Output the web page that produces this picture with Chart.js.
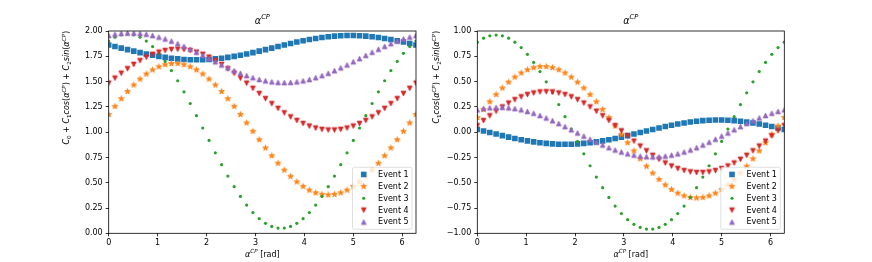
<!DOCTYPE html>
<html>
<head>
<meta charset="UTF-8">
<title>alpha CP events</title>
<script src="https://cdn.jsdelivr.net/npm/chart.js"></script>
<style>
    body { margin: 0; background: #fff; width: 872px; height: 262px; overflow: hidden; position: relative; }
    .box { position: absolute; top: 0; height: 262px; }
    #left { left: 0; width: 436px; }
    #right { left: 430px; width: 442px; }
</style>
</head>
<body>

<div class="box" id="left"><canvas id="c1" width="436" height="262"></canvas></div>
<div class="box" id="right"><canvas id="c2" width="442" height="262"></canvas></div>

<script>
// alpha^CP sampling points [rad]
const alphaCP = [0, 0.128, 0.256, 0.385, 0.513, 0.641, 0.769, 0.898, 1.026, 1.154, 1.282, 1.411, 1.539, 1.667, 1.795, 1.923, 2.052, 2.180, 2.308, 2.436, 2.565, 2.693, 2.821, 2.949, 3.077, 3.206, 3.334, 3.462, 3.590, 3.719, 3.847, 3.975, 4.103, 4.232, 4.360, 4.488, 4.616, 4.744, 4.873, 5.001, 5.129, 5.257, 5.386, 5.514, 5.642, 5.770, 5.899, 6.027, 6.155, 6.283];

const eventNames = ['Event 1', 'Event 2', 'Event 3', 'Event 4', 'Event 5'];
const xTicks = [0, 1, 2, 3, 4, 5, 6];

// left panel: C0 + C1 cos + C2 sin
const total1 = [1.862, 1.847, 1.831, 1.816, 1.801, 1.786, 1.773, 1.760, 1.749, 1.739, 1.730, 1.724, 1.719, 1.716, 1.715, 1.716, 1.719, 1.724, 1.730, 1.739, 1.749, 1.760, 1.773, 1.786, 1.801, 1.816, 1.831, 1.847, 1.862, 1.876, 1.891, 1.904, 1.916, 1.926, 1.936, 1.943, 1.949, 1.953, 1.955, 1.955, 1.953, 1.949, 1.943, 1.936, 1.926, 1.916, 1.904, 1.891, 1.876, 1.862];
const total2 = [1.175, 1.255, 1.331, 1.402, 1.467, 1.525, 1.575, 1.616, 1.647, 1.668, 1.679, 1.679, 1.668, 1.647, 1.616, 1.575, 1.525, 1.467, 1.402, 1.331, 1.255, 1.175, 1.092, 1.009, 0.926, 0.845, 0.767, 0.693, 0.625, 0.563, 0.509, 0.464, 0.427, 0.401, 0.385, 0.380, 0.385, 0.401, 0.427, 0.464, 0.509, 0.563, 0.625, 0.693, 0.767, 0.845, 0.926, 1.009, 1.092, 1.175];
const total3 = [1.900, 1.939, 1.962, 1.970, 1.962, 1.939, 1.900, 1.846, 1.779, 1.699, 1.609, 1.508, 1.399, 1.283, 1.163, 1.041, 0.918, 0.796, 0.678, 0.566, 0.461, 0.365, 0.279, 0.205, 0.145, 0.099, 0.068, 0.052, 0.052, 0.068, 0.099, 0.145, 0.205, 0.279, 0.365, 0.461, 0.566, 0.678, 0.796, 0.918, 1.041, 1.163, 1.283, 1.399, 1.508, 1.609, 1.699, 1.779, 1.846, 1.900];
const total4 = [1.484, 1.534, 1.582, 1.627, 1.669, 1.707, 1.741, 1.769, 1.791, 1.807, 1.817, 1.820, 1.817, 1.807, 1.791, 1.769, 1.741, 1.707, 1.669, 1.627, 1.582, 1.534, 1.484, 1.433, 1.382, 1.331, 1.282, 1.235, 1.191, 1.151, 1.115, 1.085, 1.060, 1.040, 1.027, 1.021, 1.021, 1.027, 1.040, 1.060, 1.085, 1.115, 1.151, 1.191, 1.235, 1.282, 1.331, 1.382, 1.433, 1.484];
const total5 = [1.956, 1.968, 1.976, 1.980, 1.980, 1.976, 1.968, 1.956, 1.940, 1.922, 1.900, 1.875, 1.848, 1.820, 1.790, 1.759, 1.727, 1.696, 1.665, 1.636, 1.608, 1.582, 1.559, 1.539, 1.521, 1.508, 1.498, 1.492, 1.490, 1.492, 1.498, 1.508, 1.521, 1.539, 1.559, 1.582, 1.608, 1.636, 1.665, 1.696, 1.727, 1.759, 1.790, 1.820, 1.848, 1.875, 1.900, 1.922, 1.940, 1.956];

// right panel: C1 cos + C2 sin
const osc1 = [0.027, 0.012, -0.004, -0.019, -0.034, -0.049, -0.062, -0.075, -0.086, -0.096, -0.105, -0.111, -0.116, -0.119, -0.120, -0.119, -0.116, -0.111, -0.105, -0.096, -0.086, -0.075, -0.062, -0.049, -0.034, -0.019, -0.004, 0.012, 0.027, 0.041, 0.056, 0.069, 0.081, 0.091, 0.101, 0.108, 0.114, 0.118, 0.120, 0.120, 0.118, 0.114, 0.108, 0.101, 0.091, 0.081, 0.069, 0.056, 0.041, 0.027];
const osc2 = [0.145, 0.225, 0.301, 0.372, 0.437, 0.495, 0.545, 0.586, 0.617, 0.638, 0.649, 0.649, 0.638, 0.617, 0.586, 0.545, 0.495, 0.437, 0.372, 0.301, 0.225, 0.145, 0.062, -0.021, -0.104, -0.185, -0.263, -0.337, -0.405, -0.467, -0.521, -0.566, -0.603, -0.629, -0.645, -0.650, -0.645, -0.629, -0.603, -0.566, -0.521, -0.467, -0.405, -0.337, -0.263, -0.185, -0.104, -0.021, 0.062, 0.145];
const osc3 = [0.890, 0.929, 0.952, 0.960, 0.952, 0.929, 0.890, 0.836, 0.769, 0.689, 0.599, 0.498, 0.389, 0.273, 0.153, 0.031, -0.092, -0.214, -0.332, -0.444, -0.549, -0.645, -0.731, -0.805, -0.865, -0.911, -0.942, -0.958, -0.958, -0.942, -0.911, -0.865, -0.805, -0.731, -0.645, -0.549, -0.444, -0.332, -0.214, -0.092, 0.031, 0.153, 0.273, 0.389, 0.498, 0.599, 0.689, 0.769, 0.836, 0.890];
const osc4 = [0.064, 0.114, 0.162, 0.207, 0.249, 0.287, 0.321, 0.349, 0.371, 0.387, 0.397, 0.400, 0.397, 0.387, 0.371, 0.349, 0.321, 0.287, 0.249, 0.207, 0.162, 0.114, 0.064, 0.013, -0.038, -0.089, -0.138, -0.185, -0.229, -0.269, -0.305, -0.335, -0.360, -0.380, -0.393, -0.399, -0.399, -0.393, -0.380, -0.360, -0.335, -0.305, -0.269, -0.229, -0.185, -0.138, -0.089, -0.038, 0.013, 0.064];
const osc5 = [0.221, 0.233, 0.241, 0.245, 0.245, 0.241, 0.233, 0.221, 0.205, 0.187, 0.165, 0.140, 0.113, 0.085, 0.055, 0.024, -0.008, -0.039, -0.070, -0.099, -0.127, -0.153, -0.176, -0.196, -0.214, -0.227, -0.237, -0.243, -0.245, -0.243, -0.237, -0.227, -0.214, -0.196, -0.176, -0.153, -0.127, -0.099, -0.070, -0.039, -0.008, 0.024, 0.055, 0.085, 0.113, 0.140, 0.165, 0.187, 0.205, 0.221];

const colors = ['#1f77b4', '#ff7f0e', '#2ca02c', '#d62728', '#9467bd'];
const FONT = "'DejaVu Sans', sans-serif";

Chart.defaults.font.family = FONT;
Chart.defaults.font.size = 8;
Chart.defaults.color = '#000';

// matplotlib-like markers as small canvases
function marker(shape, color) {
    const c = document.createElement('canvas');
    c.width = 9; c.height = 9;
    const g = c.getContext('2d');
    g.fillStyle = color; g.strokeStyle = color; g.lineWidth = 0.8; g.lineJoin = 'miter';
    g.beginPath();
    if (shape === 'star') {
        for (let k = 0; k < 10; k++) {
            const r = k % 2 ? 1.15 : 3.0;
            const a = -Math.PI / 2 + k * Math.PI / 5;
            g.lineTo(4.5 + r * Math.cos(a), 4.6 + r * Math.sin(a));
        }
    } else if (shape === 'up') {
        g.moveTo(4.5, 2.1); g.lineTo(2.1, 6.9); g.lineTo(6.9, 6.9);
    } else if (shape === 'down') {
        g.moveTo(4.5, 6.9); g.lineTo(2.1, 2.1); g.lineTo(6.9, 2.1);
    }
    g.closePath(); g.fill(); g.stroke();
    return c;
}

const styles = [
    {pointStyle: 'rect', pointRadius: 3.95},
    {pointStyle: marker('star', colors[1]), pointRadius: 4},
    {pointStyle: 'circle', pointRadius: 1.6},
    {pointStyle: marker('down', colors[3]), pointRadius: 4},
    {pointStyle: marker('up', colors[4]), pointRadius: 4}
];

function drawStyle(ctx, s, color, x, y) {
    ctx.fillStyle = color;
    if (s.pointStyle === 'rect') {
        const h = s.pointRadius * Math.SQRT1_2;
        ctx.fillRect(x - h, y - h, 2 * h, 2 * h);
    } else if (s.pointStyle === 'circle') {
        ctx.beginPath(); ctx.arc(x, y, s.pointRadius, 0, 2 * Math.PI); ctx.fill();
    } else {
        ctx.drawImage(s.pointStyle, x - 4.5, y - 4.5);
    }
}

// simple mathtext: [text, kind] kind: r roman, i italic, sub, sup
function mathRun(ctx, parts, size, x, y, draw) {
    let cx = x;
    for (const [t, kind] of parts) {
        const small = kind === 'sub' || kind === 'sup';
        const fs = small ? size * 0.7 : size;
        const italic = kind === 'i' || kind === 'sup';
        ctx.font = (italic ? 'oblique ' : '') + fs + 'px ' + FONT;
        const dy = kind === 'sub' ? size * 0.22 : kind === 'sup' ? -size * 0.42 : 0;
        if (draw) ctx.fillText(t, cx, y + dy);
        cx += ctx.measureText(t).width;
    }
    return cx - x;
}

const alphaCPText = [['α', 'i'], ['CP', 'sup']];
const xLabelText = [['α', 'i'], ['CP', 'sup'], [' [rad]', 'r']];
const cosSin = [['C', 'i'], ['1', 'sub'], ['cos', 'i'], ['(', 'r'], ['α', 'i'], ['CP', 'sup'], [')', 'r'], [' + ', 'r'],
                ['C', 'i'], ['2', 'sub'], ['sin', 'i'], ['(', 'r'], ['α', 'i'], ['CP', 'sup'], [')', 'r']];
const leftYLabel = [['C', 'i'], ['0', 'sub'], [' + ', 'r']].concat(cosSin);

const decorations = {
    id: 'decorations',
    afterDatasetsDraw(chart, args, opts) {
        const ctx = chart.ctx, a = chart.chartArea;
        ctx.save();
        // legend, lower right
        const bw = 59.5, bh = 62;
        const bx = a.right - 4 - bw, by = a.bottom - 4 - bh;
        ctx.beginPath();
        ctx.roundRect(bx, by, bw, bh, 2);
        ctx.fillStyle = 'rgba(255,255,255,0.8)';
        ctx.fill();
        ctx.strokeStyle = 'rgba(204,204,204,0.8)';
        ctx.lineWidth = 0.8;
        ctx.stroke();
        ctx.textBaseline = 'middle';
        ctx.textAlign = 'left';
        eventNames.forEach((name, i) => {
            const ry = by + 7.15 + i * 11.9;
            drawStyle(ctx, styles[i], colors[i], bx + 11.2, ry);
            ctx.fillStyle = '#000';
            ctx.font = '8px ' + FONT;
            ctx.fillText(name, bx + 25.6, ry + 0.3);
        });
        // frame
        ctx.strokeStyle = '#000';
        ctx.lineWidth = 0.8;
        ctx.strokeRect(a.left, a.top, a.right - a.left, a.bottom - a.top);
        // title and x label
        ctx.fillStyle = '#000';
        ctx.textBaseline = 'alphabetic';
        const mid = (a.left + a.right) / 2;
        let w = mathRun(ctx, alphaCPText, 9.6, 0, 0, false);
        mathRun(ctx, alphaCPText, 9.6, mid - w / 2, a.top - 7.5, true);
        w = mathRun(ctx, xLabelText, 8, 0, 0, false);
        mathRun(ctx, xLabelText, 8, mid - w / 2, a.bottom + 23.5, true);
        // y label, top aligned
        w = mathRun(ctx, opts.ylabel, 8, 0, 0, false);
        ctx.translate(opts.ylabelX + 3, a.top);
        ctx.rotate(-Math.PI / 2);
        mathRun(ctx, opts.ylabel, 8, -w, 0, true);
        ctx.restore();
    }
};

function makeChart(id, series, yMin, yMax, area, ylabel, ylabelX) {
    new Chart(document.getElementById(id), {
        type: 'scatter',
        data: {
            datasets: series.map((ys, i) => Object.assign({
                label: eventNames[i],
                data: alphaCP.map((x, j) => ({x: x, y: ys[j]})),
                backgroundColor: colors[i],
                borderColor: colors[i],
                borderWidth: 0,
                order: 5 - i
            }, styles[i]))
        },
        options: {
            responsive: false,
            animation: false,
            events: [],
            layout: { padding: { left: 0, top: area.top, right: area.right, bottom: 0 } },
            plugins: {
                legend: { display: false },
                tooltip: { enabled: false },
                decorations: { ylabel: ylabel, ylabelX: ylabelX }
            },
            scales: {
                x: {
                    type: 'linear', min: 0, max: 6.2832,
                    afterBuildTicks: s => { s.ticks = xTicks.map(v => ({value: v})); },
                    afterFit: s => { s.height = 262 - area.bottom; },
                    grid: { drawOnChartArea: false, tickLength: 3, color: '#000', lineWidth: 0.8 },
                    border: { display: false },
                    ticks: { padding: 2, maxRotation: 0, autoSkip: false, callback: v => String(v) }
                },
                y: {
                    min: yMin, max: yMax,
                    afterFit: s => { s.width = area.left; },
                    grid: { drawOnChartArea: false, tickLength: 3, color: '#000', lineWidth: 0.8 },
                    border: { display: false },
                    ticks: { stepSize: 0.25, padding: 3,
                             callback: v => (v < 0 ? '\u2212' : '') + Math.abs(v).toFixed(2) }
                }
            }
        },
        plugins: [decorations]
    });
}

makeChart('c1', [total1, total2, total3, total4, total5], 0, 2,
          {left: 108.7, top: 31, right: 436 - 416, bottom: 233.3}, leftYLabel, 66);
makeChart('c2', [osc1, osc2, osc3, osc4, osc5], -1, 1,
          {left: 477.3 - 430, top: 31, right: 442 - 354.3, bottom: 233.3}, cosSin, 436 - 430);
</script>

</body>
</html>
